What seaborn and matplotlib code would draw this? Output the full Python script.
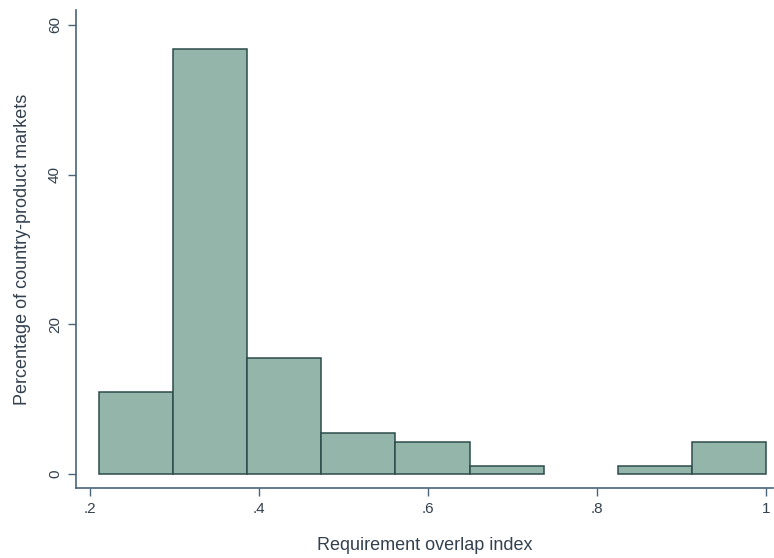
import numpy as np
import matplotlib
matplotlib.use("Agg")
import matplotlib.pyplot as plt
import seaborn as sns

# bin edges (requirement overlap index) and bar heights (percent)
bin_edges = [0.2106, 0.2983, 0.3860, 0.4737, 0.5614, 0.6491, 0.7368, 0.8246, 0.9123, 1.0]
percent = [10.9, 56.8, 15.5, 5.5, 4.3, 1.1, 0.0, 1.1, 4.3]
x_ticks = [0.2, 0.4, 0.6, 0.8, 1.0]
x_tick_labels = [".2", ".4", ".6", ".8", "1"]
y_ticks = [0, 20, 40, 60]

centers = [(a + b) / 2 for a, b in zip(bin_edges[:-1], bin_edges[1:])]

sns.set_style("white")
plt.rcParams['font.family'] = ['Liberation Sans', 'DejaVu Sans']

axis_col = "#4a6478"
text_col = "#33414f"

fig = plt.figure(figsize=(7.74, 5.58), dpi=100)
ax = fig.add_axes([0.0982, 0.1254, 0.9005, 0.857])

sns.histplot(x=centers, weights=percent, bins=bin_edges, stat="count",
             color="#93b5aa", alpha=1, edgecolor="#2e4b4b", linewidth=1.1, ax=ax)

# empty bins get no outline
for p in ax.patches:
    if p.get_height() == 0:
        p.set_visible(False)

ax.set_xlim(0.1835, 1.008)
ax.set_ylim(-1.87, 62)

ax.set_xticks(x_ticks)
ax.set_xticklabels(x_tick_labels)
ax.set_yticks(y_ticks)
ax.set_yticklabels([str(v) for v in y_ticks], rotation=90, va="center")

ax.set_xlabel("Requirement overlap index", fontsize=13, color=text_col, labelpad=15)
ax.set_ylabel("Percentage of country-product markets", fontsize=13, color=text_col, labelpad=12)

ax.tick_params(axis="both", direction="out", length=6, width=1, colors=axis_col,
               labelcolor=text_col, labelsize=11, pad=4)
ax.tick_params(axis="both", which="both", bottom=True, left=True)

sns.despine(ax=ax, top=True, right=True)
for side in ("left", "bottom"):
    ax.spines[side].set_color(axis_col)
    ax.spines[side].set_linewidth(1.2)

fig.savefig("out.png", dpi=100)
